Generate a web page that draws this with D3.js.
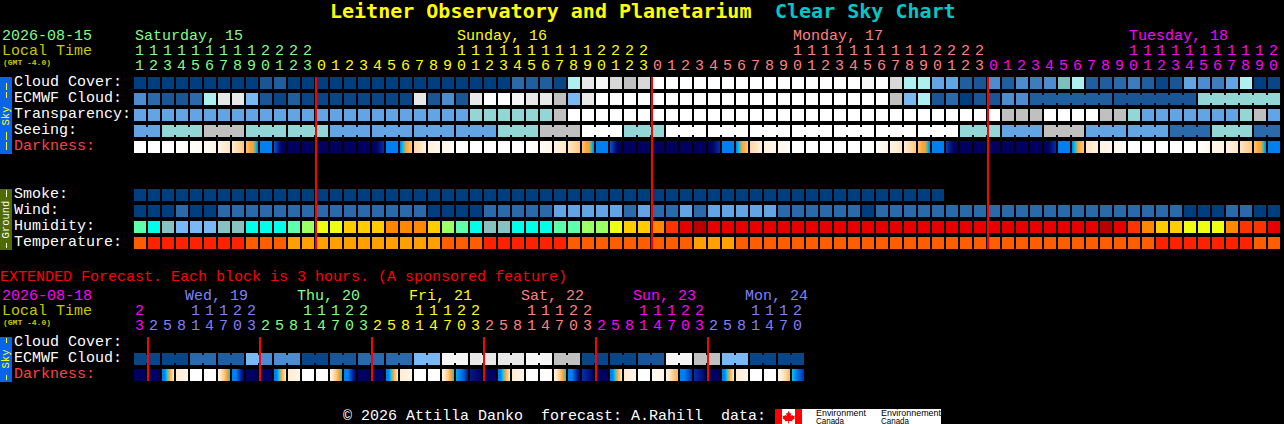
<!DOCTYPE html>
<html><head><meta charset="utf-8">
<script src="https://cdn.jsdelivr.net/npm/d3@7/dist/d3.min.js"></script>
<style>
html,body{margin:0;padding:0;background:#000;overflow:hidden}
svg{display:block}
text{font-family:"Liberation Mono",monospace;font-size:15px;white-space:pre}
</style></head><body><div id="chart"></div>
<script>
// ---------- Data ----------
const hours=[11,12,13,14,15,16,17,18,19,20,21,22,23,0,1,2,3,4,5,6,7,8,9,10,11,12,13,14,15,16,17,18,19,20,21,22,23,0,1,2,3,4,5,6,7,8,9,10,11,12,13,14,15,16,17,18,19,20,21,22,23,0,1,2,3,4,5,6,7,8,9,10,11,12,13,14,15,16,17,18,19,20];
const dayNames=["Saturday, 15","Sunday, 16","Monday, 17","Tuesday, 18"];
const dayStartCols=[0,23,47,71];
const dayColors=["#80ff80","#ffff00","#ff8080","#ff00ff"];
const hourRunLengths=[13,24,24,21];
const extHours=[23,2,5,8,11,14,17,20,23,2,5,8,11,14,17,20,23,2,5,8,11,14,17,20,23,2,5,8,11,14,17,20,23,2,5,8,11,14,17,20,23,2,5,8,11,14,17,20];
const extDayNames=["Wed, 19","Thu, 20","Fri, 21","Sat, 22","Sun, 23","Mon, 24"];
const extDayColors=["#ff00ff","#8080ff","#80ff80","#ffff00","#ff8080","#ff00ff","#8080ff"];
const extRunLengths=[1,8,8,8,8,8,7];

// level colours: cloud, transparency, seeing, wind, smoke
const skyLevels=["#003f7f","#0a4585","#1a5595","#1f5f9f","#2a6aaa","#3d7dbd","#4d8dcf","#63a4e4","#7ab8f2","#7fbfbf","#93d6d6","#aef0f0","#c0c0c0","#d8d8d8","#e8e8e8","#f6f6f6","#ffffff"];

const cloudCover=[0,0,0,0,0,0,0,0,0,2,3,0,0,0,0,0,0,0,0,0,0,0,0,0,0,0,0,4,3,3,1,11,14,15,13,12,13,16,16,16,16,16,16,16,16,16,16,16,16,16,16,16,15,16,13,11,11,7,7,3,2,6,3,6,5,6,9,11,3,3,4,5,3,1,2,7,6,5,7,11,0,1];
const ecmwfCloud=[6,4,2,2,4,11,14,14,8,2,1,3,1,1,1,1,1,1,1,1,14,2,6,2,14,16,16,15,14,14,12,8,14,16,16,16,16,16,16,16,16,16,16,16,16,16,16,16,16,16,16,16,16,16,12,8,11,2,4,0,2,2,6,6,3,3,3,3,3,3,2,2,2,2,2,2,10,10,10,10,10,10];
const ecmwfRuns=[1,1,1,1,1,1,1,1,1,1,1,1,1,1,1,1,1,1,1,1,1,1,1,1,1,1,1,1,1,1,1,1,1,1,1,1,1,1,1,1,1,1,1,1,1,1,1,1,1,1,1,1,1,1,1,1,1,1,1,1,1,1,1,1,6,6,6];
const transparency=[7,7,7,7,7,7,7,7,7,7,7,7,7,7,7,7,7,7,7,7,7,7,7,7,10,10,10,10,10,10,12,16,16,16,16,16,16,16,16,16,16,16,16,16,16,16,16,16,16,16,16,16,16,16,16,16,16,16,16,16,16,16,12,12,12,16,16,16,16,12,12,10,7,7,7,7,7,7,7,10,12,7];
const seeingVals=[7,10,12,10,10,7,7,7,7,10,12,16,10,16,16,16,16,16,16,16,10,7,12,7,7,4,10,4];
const seeingRuns=[2,3,3,3,3,3,3,3,3,3,3,3,3,3,3,3,3,3,3,3,3,3,3,3,3,3,3,2];
const smoke=[0,0,0,0,0,0,0,0,0,0,0,0,0,0,0,0,0,0,0,0,0,0,0,0,0,0,0,0,0,0,0,0,0,0,0,0,0,0,0,0,0,0,0,0,0,0,0,0,0,0,0,0,0,0,0,0,0,0];
const wind=[0,0,0,4,0,0,4,4,4,4,4,4,4,4,4,4,4,4,4,4,4,0,0,0,0,4,4,4,4,4,7,7,7,7,7,4,7,4,4,7,4,7,7,7,7,7,4,4,4,4,4,4,0,4,4,4,4,4,4,4,4,4,4,4,4,4,4,4,4,4,4,4,4,4,4,0,0,0,4,4,0,0];
const humidityColors=["#5effaa","#00ffe8","#87c1c1","#7ab8f5","#9dff66","#eeff11","#ffcc00","#ff8800","#ff3300","#e60000","#b80000"];
const humidity=[0,1,2,3,3,3,2,2,1,1,1,0,4,5,5,6,6,6,7,7,7,6,4,0,1,2,2,1,1,1,0,0,4,4,5,6,6,7,8,9,10,9,9,9,9,9,9,9,9,9,9,9,9,9,9,9,9,9,9,9,9,9,9,9,9,9,9,9,9,10,9,8,7,6,6,5,5,5,7,8,8,9];
const temperatureColors=["#ff5e00","#ff2200","#ffa000"];
const temperature=[0,1,1,1,1,1,1,1,0,0,0,2,2,2,2,2,2,2,2,2,2,2,0,0,0,1,1,1,1,1,1,0,0,0,0,0,0,0,0,0,2,2,2,0,0,0,0,0,0,0,0,0,0,0,0,0,0,0,0,0,0,0,0,0,0,0,0,0,0,0,0,0,0,1,1,1,1,1,1,1,0,0];

const darkLevels=["#ffffff","#fff4e4","#ffe4c0","#ffc880","#ffa030","#00c8e8","#0080f0","#0030a8","#000060"];
const darkness=[[0,0],[0,0],[0,0],[0,.1],[.1,.5],[.4,1],[.8,2],[1.5,3],[3.2,3.5,4,4,5,6],[6,6],[6.5,7.3,8,8],[8,8],[8,8],[8,8],[8,8],[8,8],[8,8],[8,8,7.5,7],[6,6],[6,5,4,3.5,3],[2.5,1.2],[1.2,.8],[.8,.3],[0,0],[0,0],[0,0],[0,0],[0,0],[0,.2],[.3,1],[1,1.8],[1.8,3],[3.2,3.5,4,4,5,6],[6,6],[6.5,7.3,8,8],[8,8],[8,8],[8,8],[8,8],[8,8],[8,8],[8,8,7.5,7],[6,6],[6,5,4,3.5,3],[2.5,1.2],[1.2,.8],[.8,.3],[0,0],[0,0],[0,0],[0,0],[0,0],[0,.1],[.3,1],[1,1.8],[1.5,3],[3.2,3.5,4,4,5,6],[6,6],[6.8,7.5,8,8],[8,8],[8,8],[8,8],[8,8],[8,8],[8,8],[8,8,7.5,7],[6,6],[6,5,4,3.5,3],[2,1],[1,.8],[.8,.4],[0,0],[0,0],[0,0],[0,0],[0,0],[.05,.8],[.8,1],[1,2],[2,3],[3.2,3.5,4,4,5,6],[6,6]];

const extEcmwf=[1,1,1,1,4,4,3,3,8,6,6,6,1,1,2,2,4,4,4,4,8,8,15,15,14,14,14,14,15,15,12,12,1,1,1,1,2,2,15,15,12,12,8,8,1,1,1,1];
const extEcmwfRuns=[2,2,2,2,2,2,2,2,2,2,2,2,2,2,2,2,2,2,2,2,2,2,2,2];
const extDarkness=[[8,8],[8,8],[6,6,5,4,3,1.5],[1.5,.8],[0,0],[0,.3],[.8,2,3,4,5],[6,6,7,8],[8,8],[8,8],[6,6,5,4,3,1.5],[1.5,.8],[0,0],[0,.3],[.8,2,3,4,5],[6,6,7,8],[8,8],[8,8],[6,6,5,4,3,1.5],[1.5,.8],[0,0],[0,.3],[.8,2,3,4,5],[5.5,6,6.5,7.5],[7.5,8],[8,8],[6,6,5,4,3,1.5],[1.5,.8],[0,0],[0,.3],[.8,2,3,4,5],[6,6,7,8],[7,8],[8,8],[6,6,5,4,3,1.5],[1.5,.8],[0,0],[.3,1],[1,2,3,3.5],[6,6,6.5,7],[7,7.5,8],[8,8],[6,6,5,4,3,1.5],[1.5,.8],[0,0],[0,0],[.5,1.5,2.5,3.5],[5,6,6.5,7]];

const mainRowLabels=["Cloud Cover:","ECMWF Cloud:","Transparency:","Seeing:","Darkness:"];
const groundRowLabels=["Smoke:","Wind:","Humidity:","Temperature:"];
const extRowLabels=["Cloud Cover:","ECMWF Cloud:","Darkness:"];
const midnightCols=[13,37,61];
const extMidnightCols=[1,9,17,25,33,41];

// ---------- Layout ----------
const W=1284,H=424,CELL=12,PITCH=14,X0=134;
const x=d3.scaleLinear().domain([0,1]).range([X0,X0+PITCH]);
const skyColor=d3.scaleOrdinal(d3.range(skyLevels.length),skyLevels);
const humColor=d3.scaleOrdinal(d3.range(humidityColors.length),humidityColors);
const tempColor=d3.scaleOrdinal(d3.range(temperatureColors.length),temperatureColors);
const darkColor=d3.scaleLinear().domain(d3.range(darkLevels.length)).range(darkLevels).interpolate(d3.interpolateRgb);

const svg=d3.select("#chart").append("svg").attr("width",W).attr("height",H).attr("viewBox",`0 0 ${W} ${H}`);
svg.append("rect").attr("width",W).attr("height",H).attr("fill","#000");
const defs=svg.append("defs");

function label(t,px,py,fill){
  return svg.append("text").attr("x",px).attr("y",py).attr("fill",fill).text(t);
}
function expandRuns(runs){ // group id per column
  const out=[];runs.forEach((n,g)=>{for(let k=0;k<n;k++)out.push(g)});return out;
}
function cellRow(cls,y,vals,color,runs){
  const g=svg.append("g").attr("class",cls).attr("shape-rendering","crispEdges");
  g.selectAll("rect.c").data(vals).join("rect").attr("class","c")
    .attr("x",(d,i)=>x(i)).attr("y",y).attr("width",CELL).attr("height",CELL).attr("fill",d=>color(d));
  if(runs){
    const grp=expandRuns(runs);
    const pairs=vals.map((d,i)=>i).filter(i=>i+1<vals.length&&grp[i]===grp[i+1]);
    g.selectAll("rect.b").data(pairs).join("rect").attr("class","b")
      .attr("x",i=>x(i)+CELL).attr("y",y+2).attr("width",PITCH-CELL).attr("height",CELL-4).attr("fill",i=>color(vals[i]));
  }
}
let gradId=0;
function darkRow(y,vals){
  const g=svg.append("g").attr("shape-rendering","crispEdges");
  vals.forEach((stops,i)=>{
    const id="dk"+(gradId++);
    const lg=defs.append("linearGradient").attr("id",id).attr("x1",0).attr("x2",1).attr("y1",0).attr("y2",0);
    stops.forEach((v,k)=>lg.append("stop").attr("offset",k/(stops.length-1)).attr("stop-color",darkColor(v)));
    g.append("rect").attr("x",x(i)).attr("y",y).attr("width",CELL).attr("height",CELL).attr("fill",`url(#${id})`);
  });
}
function hourText(list,runLengths,colors,yTens,yOnes){
  const grp=expandRuns(runLengths);
  list.forEach((h,i)=>{
    const fill=colors[grp[i]];
    if(h>=10)label(String(Math.floor(h/10)),x(i)+1,yTens,fill);
    label(String(h%10),x(i)+1,yOnes,fill);
  });
}
function sideBand(y,h,fill,txtFill,word,wordCy,dashes){
  svg.append("rect").attr("x",0).attr("y",y).attr("width",12).attr("height",h).attr("fill",fill).attr("shape-rendering","crispEdges");
  svg.append("text").attr("transform",`translate(9,${wordCy}) rotate(-90)`).attr("text-anchor","middle")
     .attr("fill",txtFill).style("font-size","10.5px").text(word);
  svg.append("g").attr("shape-rendering","crispEdges").selectAll("rect").data(dashes).join("rect")
     .attr("x",6).attr("y",d=>d[0]).attr("width",1).attr("height",d=>d[1]-d[0]).attr("fill",txtFill);
}
function titleText(t,px,fill){
  svg.append("text").attr("x",px).attr("y",18).attr("fill",fill)
    .style("font-family","'DejaVu Sans Mono'").style("font-size","20px").style("font-weight","bold").text(t);
}

// ---------- Title ----------
titleText("Leitner Observatory and Planetarium",330,"#ffff00");
titleText("Clear Sky Chart",775,"#00c8c8");

// ---------- Header ----------
label("2026-08-15",2,40,"#80ff80");
label("Local Time",2,55,"#c8c800");
label("(GMT -4.0)",3,65,"#c8c800").style("font-size","8px").style("font-weight","bold");
dayNames.forEach((t,i)=>label(t,x(dayStartCols[i])+1,40,dayColors[i]));
hourText(hours,hourRunLengths,dayColors,55,70);

// ---------- Sky block ----------
const skyRows=[77,93,109,125,141];
mainRowLabels.forEach((t,i)=>label(t,14,skyRows[i]+9,i===4?"#ff4040":"#ffffff"));
cellRow("cloud",skyRows[0],cloudCover,skyColor);
cellRow("ecmwf",skyRows[1],ecmwfCloud,skyColor,ecmwfRuns);
cellRow("transp",skyRows[2],transparency,skyColor);
const seeing=[];seeingRuns.forEach((n,k)=>{for(let j=0;j<n;j++)seeing.push(seeingVals[k])});
cellRow("seeing",skyRows[3],seeing,skyColor,seeingRuns);
darkRow(skyRows[4],darkness);
sideBand(77,77,"#0a64e8","#ffff00","Sky",116,[[83,90],[92,98],[132,140],[142,150]]);

// ---------- Ground block ----------
const groundRows=[189,205,221,237];
groundRowLabels.forEach((t,i)=>label(t,14,groundRows[i]+9,"#ffffff"));
cellRow("smoke",groundRows[0],smoke,skyColor);
cellRow("wind",groundRows[1],wind,skyColor);
cellRow("hum",groundRows[2],humidity,humColor);
cellRow("temp",groundRows[3],temperature,tempColor);
sideBand(189,61,"#4f6a00","#ffffff","Ground",219.5,[[190,197],[243,248]]);

svg.append("g").attr("shape-rendering","crispEdges").selectAll("rect").data(midnightCols).join("rect")
  .attr("x",c=>x(c)-1).attr("y",77).attr("width",2).attr("height",172).attr("fill","#ff0000");

// ---------- Extended ----------
label("EXTENDED Forecast. Each block is 3 hours. (A sponsored feature)",0,281,"#ff0000");
label("2026-08-18",2,300,"#ff00ff");
label("Local Time",2,315,"#c8c800");
label("(GMT -4.0)",3,325,"#c8c800").style("font-size","8px").style("font-weight","bold");
extDayNames.forEach((t,i)=>label(t,x(i*8+3)+9,300,extDayColors[i+1]));
hourText(extHours,extRunLengths,extDayColors,315,330);
const extRows=[337,353,369];
extRowLabels.forEach((t,i)=>label(t,14,extRows[i]+9,i===2?"#ff4040":"#ffffff"));
cellRow("xecmwf",extRows[1],extEcmwf,skyColor,extEcmwfRuns);
darkRow(extRows[2],extDarkness);
sideBand(337,45,"#0a64e8","#ffff00","Sky",359,[[338,343],[375,380]]);
svg.append("g").attr("shape-rendering","crispEdges").selectAll("rect").data(extMidnightCols).join("rect")
  .attr("x",c=>x(c)-1).attr("y",337).attr("width",2).attr("height",44).attr("fill","#ff0000");

// ---------- Footer ----------
label("© 2026 Attilla Danko  forecast: A.Rahill  data:",343,420,"#ffffff");
const fg=svg.append("g").attr("shape-rendering","crispEdges");
fg.append("rect").attr("x",775).attr("y",409).attr("width",166).attr("height",15).attr("fill","#fff");
fg.append("rect").attr("x",775).attr("y",409).attr("width",7).attr("height",15).attr("fill","#ff0000");
fg.append("rect").attr("x",795).attr("y",409).attr("width",7).attr("height",15).attr("fill","#ff0000");
svg.append("path").attr("d","M788.5 411l1.6 2.4 1.2-.5-.6 3 1.6-1.1.6 1.2 2-.3-.6 2 .7.5-2.8 2.1.4 1-3.4-.4v2.5h-1v-2.5l-3.4.4.4-1-2.8-2.1.7-.5-.6-2 2 .3.6-1.2 1.6 1.1-.6-3 1.2.5z").attr("fill","#ff0000");
const small=(t,px,py,len)=>svg.append("text").attr("x",px).attr("y",py).attr("fill","#000").attr("textLength",len).attr("lengthAdjust","spacingAndGlyphs").style("font-size","8.5px").style("font-family","Liberation Sans").text(t);
small("Environment",816,416,50);small("Canada",816,423.5,28);
small("Environnement",881,416,60);small("Canada",881,423.5,28);
</script></body></html>
